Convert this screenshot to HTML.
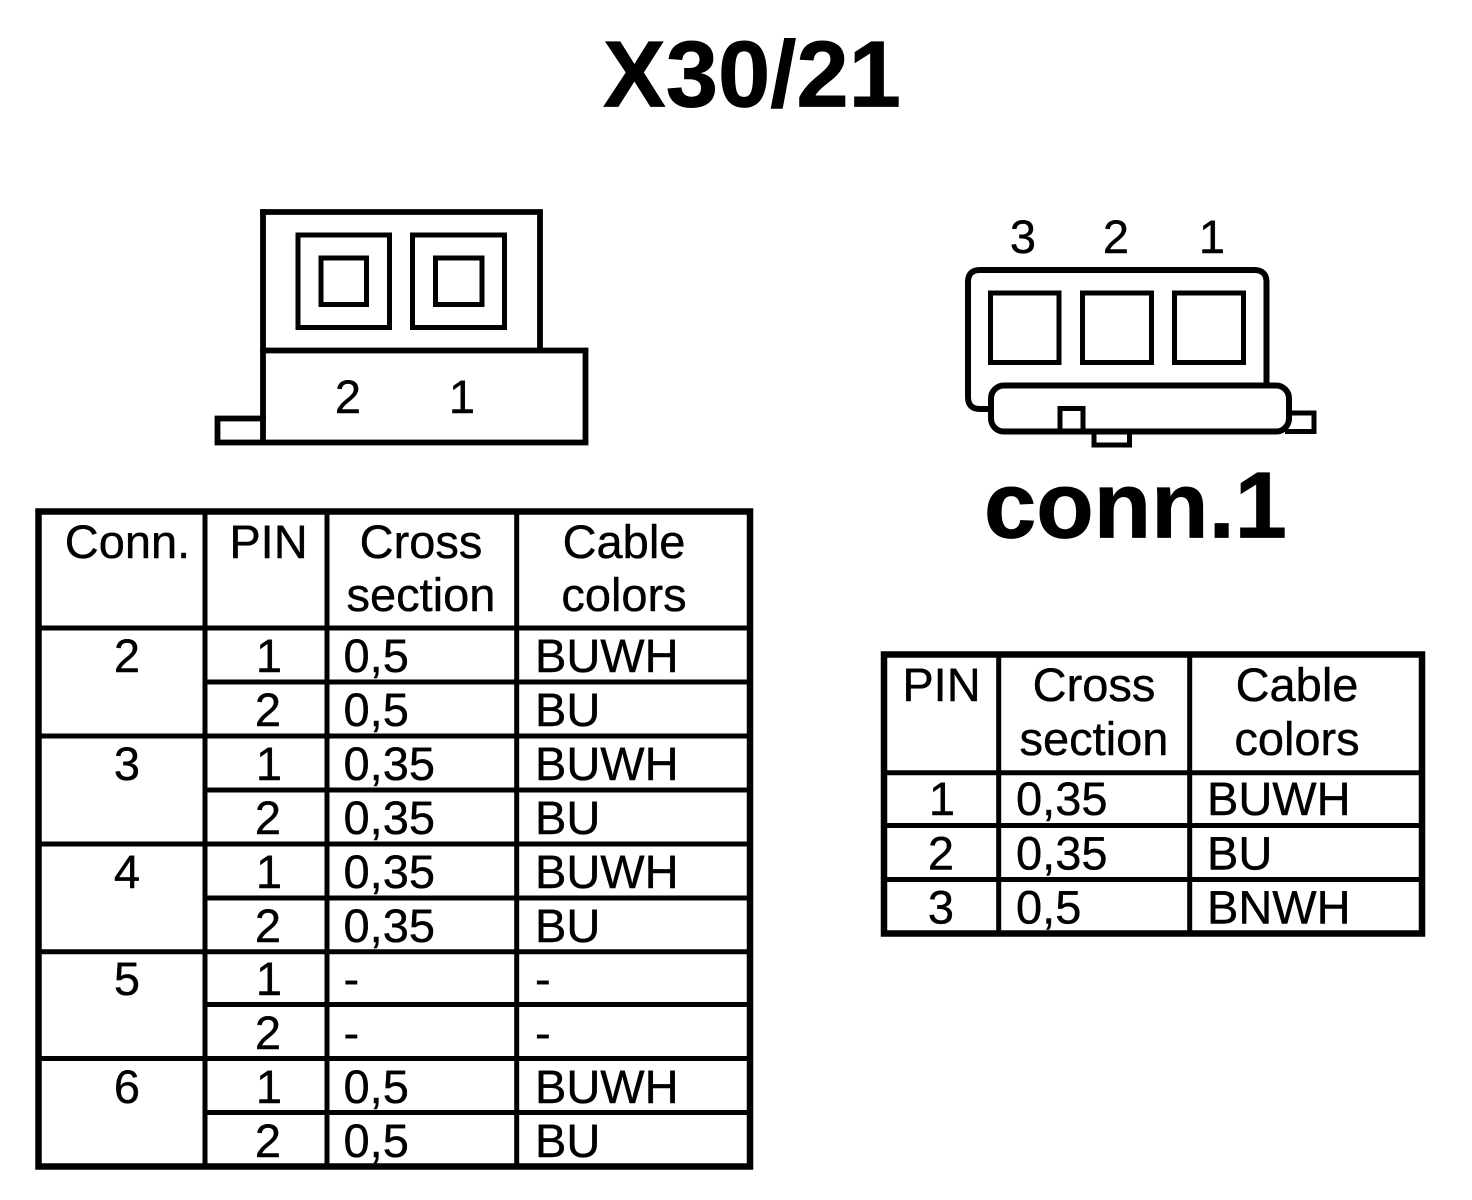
<!DOCTYPE html>
<html><head><meta charset="utf-8"><style>
html,body{margin:0;padding:0;background:#fff}
svg{display:block}
text{font-family:"Liberation Sans",Arial,sans-serif;font-size:47px;fill:#000;stroke:#000;stroke-width:.4px;text-rendering:geometricPrecision}
.m{text-anchor:middle}
.b{font-weight:bold;font-size:94px;stroke-width:.8px}
.l{stroke:#000;fill:none}
</style></head><body>
<svg width="1472" height="1200" viewBox="0 0 1472 1200" xmlns="http://www.w3.org/2000/svg">
<rect width="1472" height="1200" fill="#fff"/>
<text class="m b" x="752" y="106.500">X30/21</text>
<text class="m b" x="1135.500" y="537.500">conn.1</text>

<!-- left connector -->
<g class="l" stroke-width="5.800" stroke-linecap="square">
<path d="M263 212H540V350"/>
<path d="M263 212V442"/>
<path d="M263 350.500H585.500V442.500H217.500V418.500H263"/>
</g>
<g class="l" stroke-width="5">
<rect x="298" y="235" width="91.500" height="92.500"/>
<rect x="412.500" y="235" width="92" height="92.500"/>
<rect x="321" y="258" width="45.500" height="46.500"/>
<rect x="435.500" y="258" width="46.500" height="46.500"/>
</g>
<text class="m" x="348" y="413">2</text>
<text class="m" x="462" y="413">1</text>

<!-- right connector -->
<text class="m" x="1023" y="253">3</text>
<text class="m" x="1116" y="253">2</text>
<text class="m" x="1212" y="253">1</text>
<g class="l" stroke-width="6">
<path d="M990 409H980Q968 409 968 397V282Q968 270 980 270H1254Q1266.500 270 1266.500 282V385"/>
<rect x="991" y="385.500" width="298" height="46" rx="13"/>
</g>
<g class="l" stroke-width="5">
<rect x="990.500" y="293" width="68.500" height="69.500"/>
<rect x="1082.500" y="293" width="69" height="69.500"/>
<rect x="1174.500" y="293" width="69" height="69.500"/>
<path d="M1060 431V408.500H1083V431"/>
<path d="M1094 433V445H1129.500V433"/>
<path d="M1292 413H1314V431.500H1285"/>
</g>

<!-- left table -->
<rect class="l" x="38.500" y="511.500" width="711.500" height="655" stroke-width="6.500"/>
<g class="l" stroke-width="5">
<path d="M205 511V1167M327 511V1167M516.700 511V1167"/>
<path d="M38 628H750M205 682H750M38 736H750M205 790H750M38 844H750M205 898H750M38 951.700H750M205 1004.500H750M38 1058.500H750M205 1112.500H750"/>
</g>
<text class="m" x="127.500" y="558">Conn.</text>
<text class="m" x="268.500" y="558">PIN</text>
<text class="m" x="421" y="558">Cross</text>
<text class="m" x="421" y="611">section</text>
<text class="m" x="624" y="558">Cable</text>
<text class="m" x="624" y="611">colors</text>

<text class="m" x="127" y="672">2</text>
<text class="m" x="127" y="780">3</text>
<text class="m" x="127" y="888">4</text>
<text class="m" x="127" y="995">5</text>
<text class="m" x="127" y="1103">6</text>

<text class="m" x="269" y="672">1</text><text x="343.500" y="672">0,5</text><text x="535" y="672">BUWH</text>
<text class="m" x="268" y="726">2</text><text x="343.500" y="726">0,5</text><text x="535" y="726">BU</text>
<text class="m" x="269" y="780">1</text><text x="343.500" y="780">0,35</text><text x="535" y="780">BUWH</text>
<text class="m" x="268" y="834">2</text><text x="343.500" y="834">0,35</text><text x="535" y="834">BU</text>
<text class="m" x="269" y="888">1</text><text x="343.500" y="888">0,35</text><text x="535" y="888">BUWH</text>
<text class="m" x="268" y="942">2</text><text x="343.500" y="942">0,35</text><text x="535" y="942">BU</text>
<text class="m" x="269" y="995">1</text><text x="343.500" y="995">-</text><text x="535" y="995">-</text>
<text class="m" x="268" y="1049">2</text><text x="343.500" y="1049">-</text><text x="535" y="1049">-</text>
<text class="m" x="269" y="1103">1</text><text x="343.500" y="1103">0,5</text><text x="535" y="1103">BUWH</text>
<text class="m" x="268" y="1157">2</text><text x="343.500" y="1157">0,5</text><text x="535" y="1157">BU</text>

<!-- right table -->
<rect class="l" x="884" y="654.500" width="538" height="279" stroke-width="6.500"/>
<g class="l" stroke-width="5">
<path d="M998.700 654V934M1189.700 654V934"/>
<path d="M884 772.700H1422M884 825.500H1422M884 879.500H1422"/>
</g>
<text class="m" x="941.500" y="701">PIN</text>
<text class="m" x="1094" y="701">Cross</text>
<text class="m" x="1094" y="755">section</text>
<text class="m" x="1297" y="701">Cable</text>
<text class="m" x="1297" y="755">colors</text>
<text class="m" x="942" y="815">1</text><text x="1016" y="815">0,35</text><text x="1207" y="815">BUWH</text>
<text class="m" x="941" y="869.500">2</text><text x="1016" y="869.500">0,35</text><text x="1207" y="869.500">BU</text>
<text class="m" x="941" y="923.500">3</text><text x="1016" y="923.500">0,5</text><text x="1207" y="923.500">BNWH</text>
</svg>
</body></html>
